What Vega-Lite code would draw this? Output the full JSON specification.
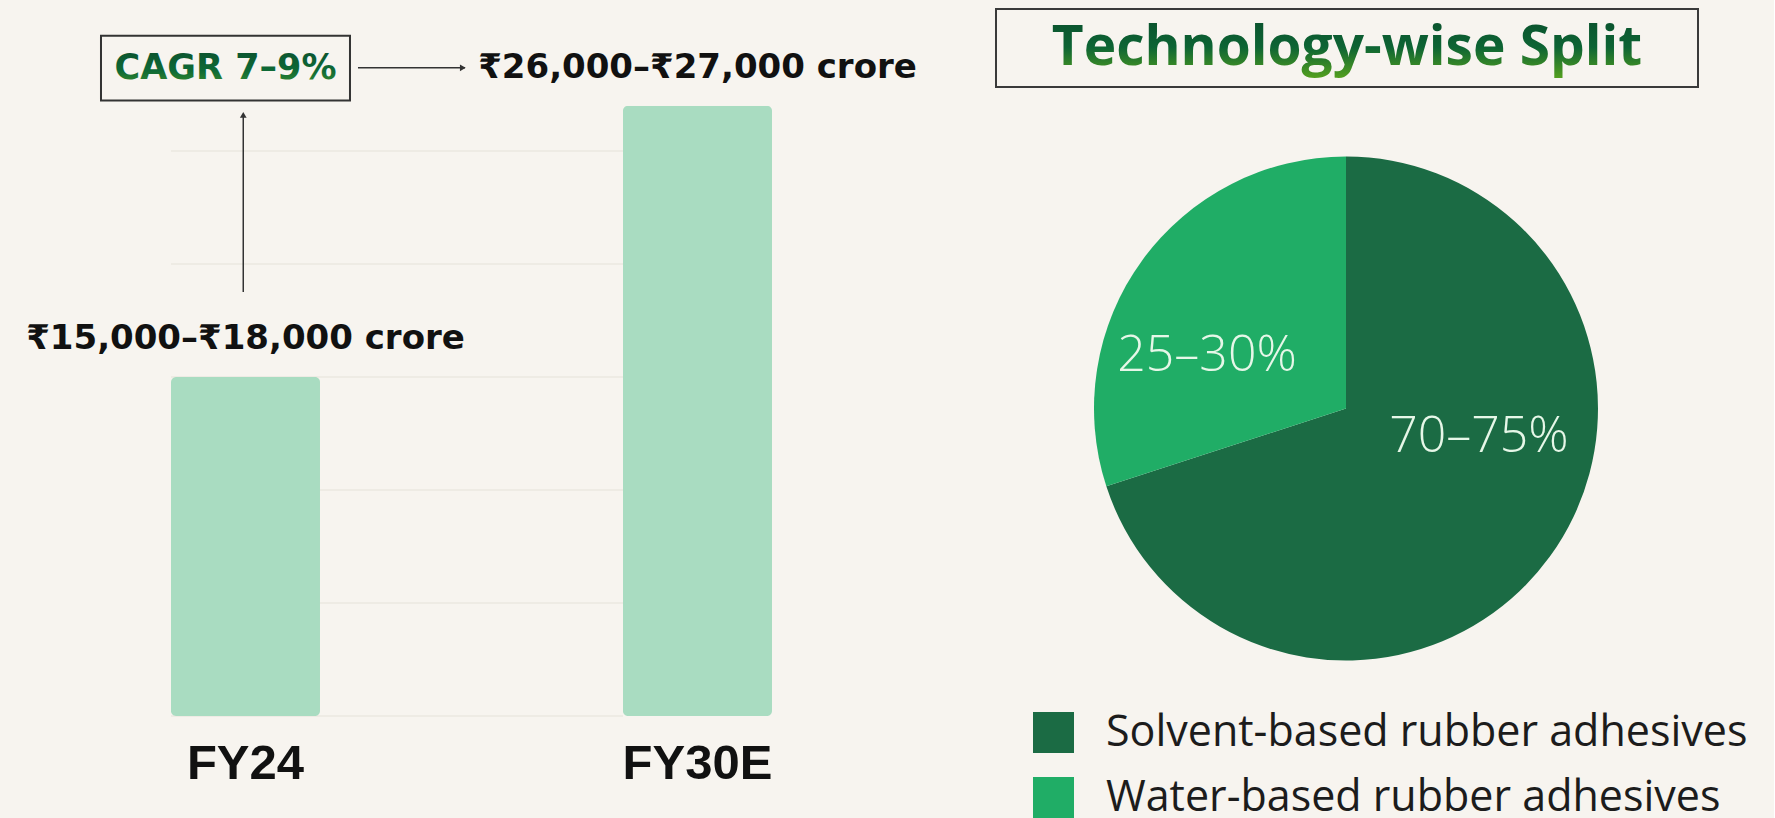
{
  "$schema": "https://vega.github.io/schema/vega-lite/v6.json",
  "background": "#f7f4ef",
  "padding": {"left": 0, "top": 8, "right": 0, "bottom": 0},
  "spacing": 35,
  "config": {
    "view": {"stroke": null},
    "font": "Open Sans",
    "axisX": {"title": null, "domain": false, "ticks": false, "tickSize": 0, "grid": false, "labelAngle": 0, "labelFont": "Liberation Sans", "labelFontWeight": "bold", "labelFontSize": 49, "labelColor": "#111111", "labelPadding": 23}
  },
  "datasets": {
    "market": [
      {"year": "FY24", "value": 15000, "label": "₹15,000–₹18,000 crore"},
      {"year": "FY30E", "value": 27000, "label": "₹26,000–₹27,000 crore"}
    ],
    "grid": [
      {"v": 0, "from": "FY24", "to": "FY30E"},
      {"v": 5000, "from": "FY24", "to": "FY30E"},
      {"v": 10000, "from": "FY24", "to": "FY30E"},
      {"v": 15000, "from": "FY24", "to": "FY30E"},
      {"v": 20000, "from": "FY24", "to": "FY30E"},
      {"v": 25000, "from": "FY24", "to": "FY30E"}
    ],
    "cagr": [
      {"from": "FY24", "to": "FY30E", "start": 15000, "end": 27000, "label": "CAGR 7–9%"}
    ],
    "split": [
      {"tech": "Solvent-based rubber adhesives", "share": 70, "label": "70–75%"},
      {"tech": "Water-based rubber adhesives", "share": 30, "label": "25–30%"}
    ],
    "title": [{"t": "Technology-wise Split"}]
  },
  "hconcat": [
    {
      "width": 960,
      "height": 707,
      "layer": [
        {
          "data": {"name": "grid"},
          "mark": {"type": "rule", "color": "#ebe8e1", "strokeWidth": 1.5},
          "encoding": {
            "x": {"field": "from", "type": "nominal", "bandPosition": 0, "scale": {"type": "band", "paddingInner": 0.67035, "paddingOuter": 0.39712, "align": 0.4763}},
            "x2": {"field": "to", "bandPosition": 0},
            "y": {"field": "v", "type": "quantitative", "axis": null, "scale": {"domain": [0, 31283], "nice": false, "zero": true}}
          }
        },
        {
          "data": {"name": "market"},
          "mark": {"type": "bar", "color": "#a9dcc1", "cornerRadius": 5},
          "encoding": {
            "x": {"field": "year", "type": "nominal"},
            "y": {"field": "value", "type": "quantitative", "axis": null}
          }
        },
        {
          "data": {"name": "market"},
          "mark": {"type": "text", "dy": -38, "font": "DejaVu Sans", "fontWeight": "bold", "fontSize": 34, "color": "#111111", "baseline": "middle"},
          "encoding": {
            "x": {"field": "year", "type": "nominal"},
            "y": {"field": "value", "type": "quantitative", "axis": null},
            "text": {"field": "label"}
          }
        },
        {
          "data": {"name": "cagr"},
          "mark": {"type": "rect", "fillOpacity": 0, "stroke": "#333333", "strokeWidth": 2, "yOffset": -70, "y2Offset": -5.3},
          "encoding": {
            "x": {"field": "from", "type": "nominal", "bandPosition": -0.4698},
            "x2": {"field": "from", "bandPosition": 1.2013},
            "y": {"field": "end", "type": "quantitative", "axis": null},
            "y2": {"field": "end"}
          }
        },
        {
          "data": {"name": "cagr"},
          "mark": {"type": "text", "dy": -38, "font": "DejaVu Sans", "fontWeight": "bold", "fontSize": 35, "baseline": "middle",
            "fill": {"gradient": "linear", "x1": 0, "y1": 0, "x2": 0, "y2": 1, "stops": [{"offset": 0, "color": "#0b4f2e"}, {"offset": 0.6, "color": "#0e6a36"}, {"offset": 1, "color": "#3f8f2a"}]}},
          "encoding": {
            "x": {"field": "from", "type": "nominal", "bandPosition": 0.366},
            "y": {"field": "end", "type": "quantitative", "axis": null},
            "text": {"field": "label"}
          }
        },
        {
          "data": {"name": "cagr"},
          "mark": {"type": "rule", "color": "#333333", "strokeWidth": 1.5, "yOffset": -38},
          "encoding": {
            "x": {"field": "from", "type": "nominal", "bandPosition": 1.255},
            "x2": {"field": "to", "bandPosition": -1.0604},
            "y": {"field": "end", "type": "quantitative", "axis": null}
          }
        },
        {
          "data": {"name": "cagr"},
          "mark": {"type": "point", "shape": "triangle-right", "filled": true, "size": 45, "color": "#333333", "opacity": 1, "yOffset": -38},
          "encoding": {
            "x": {"field": "to", "type": "nominal", "bandPosition": -1.075},
            "y": {"field": "end", "type": "quantitative", "axis": null}
          }
        },
        {
          "data": {"name": "cagr"},
          "mark": {"type": "rule", "color": "#333333", "strokeWidth": 1.5, "yOffset": -85, "y2Offset": 10},
          "encoding": {
            "x": {"field": "from", "type": "nominal", "bandPosition": 0.485},
            "y": {"field": "start", "type": "quantitative", "axis": null},
            "y2": {"field": "end"}
          }
        },
        {
          "data": {"name": "cagr"},
          "mark": {"type": "point", "shape": "triangle-up", "filled": true, "size": 45, "color": "#333333", "opacity": 1, "yOffset": 9},
          "encoding": {
            "x": {"field": "from", "type": "nominal", "bandPosition": 0.485},
            "y": {"field": "end", "type": "quantitative", "axis": null}
          }
        }
      ]
    },
    {
      "bounds": "flush",
      "spacing": 20,
      "vconcat": [
        {
          "width": 702,
          "height": 78,
          "view": {"stroke": "#3a3a3a", "strokeWidth": 2},
          "data": {"name": "title"},
          "mark": {"type": "text", "font": "Open Sans", "fontWeight": "bold", "fontSize": 55, "baseline": "middle",
            "fill": {"gradient": "linear", "x1": 0, "y1": 0, "x2": 0, "y2": 1, "stops": [{"offset": 0, "color": "#0a4a2b"}, {"offset": 0.55, "color": "#0d6434"}, {"offset": 1, "color": "#5aa51c"}]}},
          "encoding": {"text": {"field": "t"}}
        },
        {
          "width": 700,
          "height": 603,
          "data": {"name": "split"},
          "layer": [
            {
              "mark": {"type": "arc", "outerRadius": 252},
              "encoding": {
                "theta": {"field": "share", "type": "quantitative", "stack": true},
                "order": {"field": "share", "type": "quantitative", "sort": "descending"},
                "color": {"field": "tech", "type": "nominal",
                  "scale": {"domain": ["Solvent-based rubber adhesives", "Water-based rubber adhesives"], "range": ["#1b6b44", "#20ad66"]},
                  "legend": {"title": null, "orient": "none", "legendX": 1032, "legendY": 702, "padding": 0, "symbolType": "square", "symbolSize": 1681, "symbolStrokeWidth": 0, "labelFont": "Open Sans", "labelFontSize": 43, "labelColor": "#1c1c1c", "labelOffset": 31, "rowPadding": 21, "labelLimit": 0}}
              }
            },
            {
              "mark": {"type": "text", "radius": 150, "dx": -17.6, "dy": 35.7, "font": "Open Sans", "fontWeight": 300, "fontSize": 50, "fill": "#e6f7e8", "baseline": "middle"},
              "encoding": {
                "theta": {"field": "share", "type": "quantitative", "stack": true},
                "order": {"field": "share", "type": "quantitative", "sort": "descending"},
                "detail": {"field": "tech", "type": "nominal"},
                "text": {"condition": {"test": "datum.tech === 'Water-based rubber adhesives'", "field": "label"}, "value": ""}
              }
            },
            {
              "mark": {"type": "text", "radius": 150, "dx": 11.6, "dy": -59.7, "font": "Open Sans", "fontWeight": 300, "fontSize": 50, "fill": "#e6f7e8", "baseline": "middle"},
              "encoding": {
                "theta": {"field": "share", "type": "quantitative", "stack": true},
                "order": {"field": "share", "type": "quantitative", "sort": "descending"},
                "detail": {"field": "tech", "type": "nominal"},
                "text": {"condition": {"test": "datum.tech === 'Solvent-based rubber adhesives'", "field": "label"}, "value": ""}
              }
            }
          ]
        }
      ]
    },
    {
      "width": 40,
      "height": 810,
      "data": {"values": [{}]},
      "mark": {"type": "text"},
      "encoding": {"text": {"value": ""}}
    }
  ]
}
